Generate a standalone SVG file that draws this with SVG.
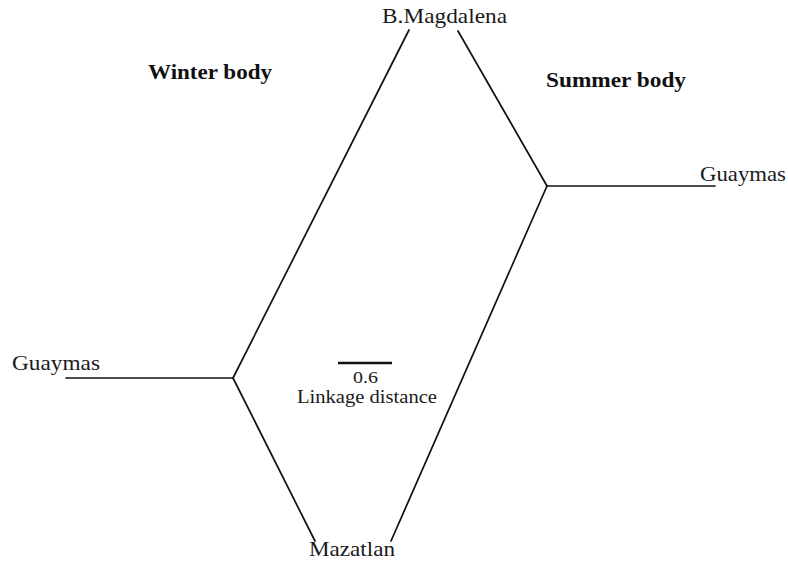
<svg xmlns="http://www.w3.org/2000/svg" width="788" height="562" viewBox="0 0 788 562">
<style>
.lbl{font-family:"Liberation Serif","Times New Roman",serif;font-size:21px;fill:#1a1a1a}
.ttl{font-family:"Liberation Serif","Times New Roman",serif;font-size:21px;font-weight:bold;fill:#111}
.edge{stroke:#111;stroke-width:1.7;fill:none;stroke-linecap:round}
</style>
<rect width="788" height="562" fill="#fff"/>
<g id="connectors">
<line class="edge" x1="409" y1="30" x2="233" y2="378"/>
<line class="edge" x1="233" y1="378" x2="66" y2="378"/>
<line class="edge" x1="233" y1="378" x2="315" y2="541"/>
<line class="edge" x1="458" y1="31" x2="547" y2="186"/>
<line class="edge" x1="547" y1="186" x2="715" y2="186"/>
<line class="edge" x1="547" y1="186" x2="391" y2="541"/>
</g>
<g id="node-bmagdalena"><text class="lbl" x="382" y="23" textLength="125" lengthAdjust="spacingAndGlyphs">B.Magdalena</text></g>
<g id="node-guaymas-winter"><text class="lbl" x="12" y="370" textLength="88" lengthAdjust="spacingAndGlyphs">Guaymas</text></g>
<g id="node-guaymas-summer"><text class="lbl" x="700" y="181" textLength="86" lengthAdjust="spacingAndGlyphs">Guaymas</text></g>
<g id="node-mazatlan"><text class="lbl" x="309" y="556" textLength="86" lengthAdjust="spacingAndGlyphs">Mazatlan</text></g>
<g id="title-winter"><text class="ttl" x="148" y="79" textLength="124" lengthAdjust="spacingAndGlyphs">Winter body</text></g>
<g id="title-summer"><text class="ttl" x="546" y="87" textLength="140" lengthAdjust="spacingAndGlyphs">Summer body</text></g>
<g id="scale">
<line x1="338" y1="363" x2="392" y2="363" stroke="#111" stroke-width="2.4"/>
<text class="lbl" x="353" y="383" textLength="25" lengthAdjust="spacingAndGlyphs" style="font-size:16px">0.6</text>
<text class="lbl" x="297" y="403" textLength="140" lengthAdjust="spacingAndGlyphs" style="font-size:18px">Linkage distance</text>
</g>
</svg>
